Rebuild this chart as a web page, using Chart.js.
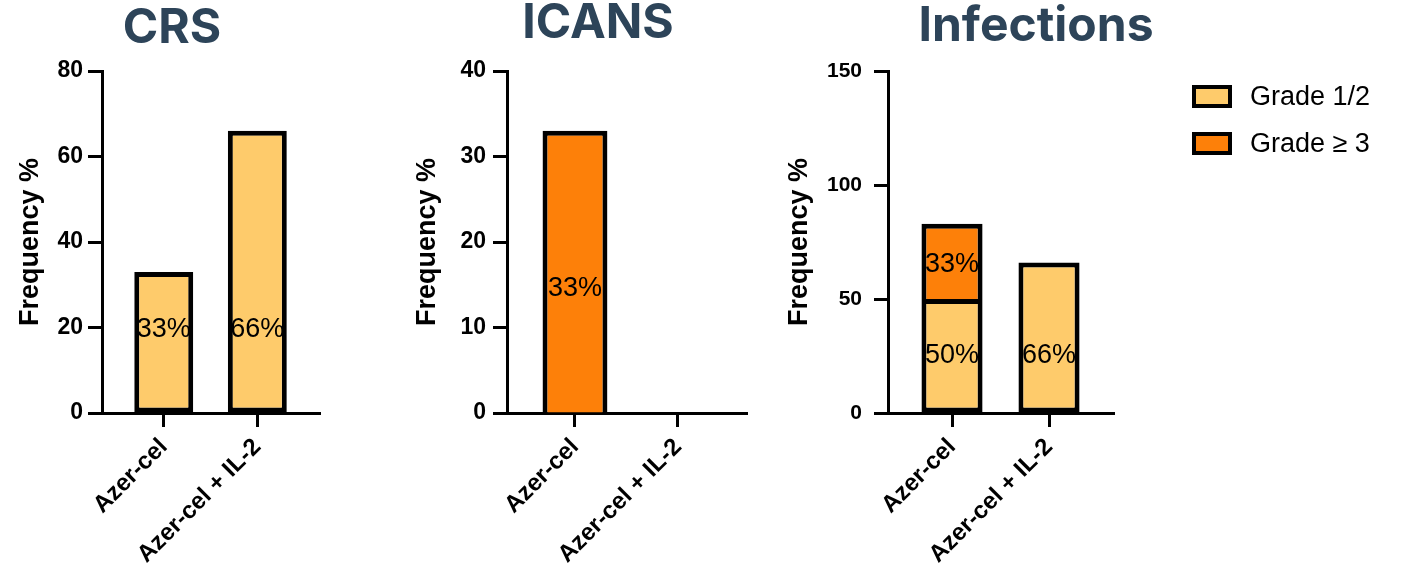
<!DOCTYPE html>
<html>
<head>
<meta charset="utf-8">
<script src="https://cdn.jsdelivr.net/npm/chart.js@4"></script>
<style>
  html, body { margin: 0; padding: 0; background: #fff; }
  body { width: 1402px; height: 576px; position: relative; overflow: hidden; }
  canvas { position: absolute; top: 0; }
  #legend { position: absolute; left: 1192px; top: 85px; font-family: "Liberation Sans", Arial, sans-serif; font-size: 27px; color: #000; }
  #legend .item { display: flex; align-items: center; height: 23px; margin-bottom: 24px; white-space: nowrap; }
  #legend .swatch { box-sizing: border-box; width: 40px; height: 23px; border: 4px solid #000; margin-right: 18px; }
</style>
</head>
<body>
<canvas id="crs" width="344" height="576" style="left:0px"></canvas>
<canvas id="icans" width="396" height="576" style="left:400px"></canvas>
<canvas id="infections" width="512" height="576" style="left:780px"></canvas>
<div id="legend"></div>
<script>
// Treatment arms and grade groups
const categories = ['Azer-cel', 'Azer-cel + IL-2'];
const seriesNames = ['Grade 1/2', 'Grade \u2265 3'];

// Frequency (%) by grade for each adverse event
const crsGrade12 = [33, 66];
const crsGrade3 = [0, 0];
const icansGrade12 = [0, 0];
const icansGrade3 = [33, 0];
const infGrade12 = [50, 66];
const infGrade3 = [33, 0];

// Y axis tick values
const crsTicks = [0, 20, 40, 60, 80];
const icansTicks = [0, 10, 20, 30, 40];
const infTicks = [0, 50, 100, 150];

const SANS = '"Liberation Sans", Arial, sans-serif';
const LIGHT = '#FECB6B';
const DARK = '#FD8009';
const TITLE_COLOR = '#2D4459';

// Writes the percentage inside each non-empty bar segment
const barText = {
  id: 'barText',
  afterDatasetsDraw(chart, args, opts) {
    const { ctx } = chart;
    const yScale = chart.scales.y;
    ctx.save();
    ctx.font = '27px ' + SANS;
    ctx.fillStyle = '#000';
    ctx.textAlign = 'center';
    ctx.textBaseline = 'middle';
    chart.data.datasets.forEach((ds, d) => {
      const meta = chart.getDatasetMeta(d);
      meta.data.forEach((bar, i) => {
        const v = ds.amounts[i];
        if (!v) return;
        ctx.fillText(v + '%', bar.x, yScale.getPixelForValue(opts.anchors[d][i]));
      });
    });
    ctx.restore();
  }
};

// Builds the shared legend as HTML from the chart's own legend items
const htmlLegend = {
  id: 'htmlLegend',
  afterUpdate(chart, args, opts) {
    if (!opts.containerID) return;
    const box = document.getElementById(opts.containerID);
    box.innerHTML = '';
    Chart.defaults.plugins.legend.labels.generateLabels(chart).forEach(item => {
      const row = document.createElement('div');
      row.className = 'item';
      const sw = document.createElement('span');
      sw.className = 'swatch';
      sw.style.background = item.fillStyle;
      const tx = document.createElement('span');
      tx.textContent = item.text;
      row.appendChild(sw);
      row.appendChild(tx);
      box.appendChild(row);
    });
  }
};

// Lower segment starts at zero, upper segment sits on top of the lower one
function lowerSegments(low) {
  return low.map((v, i) => ({ x: i, y: v ? v : null }));
}
function upperSegments(low, high) {
  return high.map((v, i) => ({ x: i, y: v ? [low[i], low[i] + v] : null }));
}

function makePanel(id, cfg) {
  const datasets = [
    { label: seriesNames[0], data: lowerSegments(cfg.low), amounts: cfg.low,
      backgroundColor: LIGHT, borderColor: '#000', borderWidth: 5, borderSkipped: false },
    { label: seriesNames[1], data: upperSegments(cfg.low, cfg.high), amounts: cfg.high,
      backgroundColor: DARK, borderColor: '#000', borderWidth: 5, borderSkipped: 'bottom' }
  ];
  const tickFont = { family: SANS, size: 24, weight: 'bold' };
  return new Chart(document.getElementById(id), {
    type: 'bar',
    data: { datasets },
    options: {
      responsive: false,
      animation: false,
      events: [],
      layout: { padding: 0 },
      datasets: { bar: { categoryPercentage: 1, barPercentage: 0.63, grouped: false } },
      scales: {
        x: {
          type: 'linear',
          min: -0.66,
          max: 1.67,
          offset: false,
          border: { color: '#000', width: 3 },
          grid: { offset: false, drawOnChartArea: false, drawTicks: true, tickLength: 14, tickWidth: 3, tickColor: '#000' },
          ticks: {
            autoSkip: false, minRotation: 45, maxRotation: 45, padding: 6,
            color: '#000', font: tickFont,
            callback: v => categories[v]
          },
          afterBuildTicks: s => { s.ticks = categories.map((c, i) => ({ value: i })); },
          afterFit: s => { s.height = 576 - 413; }
        },
        y: {
          min: cfg.ticks[0],
          max: cfg.ticks[cfg.ticks.length - 1],
          border: { color: '#000', width: 3 },
          grid: { drawOnChartArea: false, drawTicks: true, tickLength: 14, tickWidth: 3, tickColor: '#000' },
          ticks: { padding: cfg.tickPad, color: '#000', font: { family: SANS, size: cfg.tickSize, weight: 'bold' } },
          afterBuildTicks: s => { s.ticks = cfg.ticks.map(v => ({ value: v })); },
          title: {
            display: true, text: 'Frequency %', color: '#000',
            font: { family: SANS, size: 27, weight: 'bold', lineHeight: 1 },
            padding: { top: cfg.axisTitleX - 13.5, bottom: 0 }
          },
          afterFit: s => { s.width = cfg.axisLeft; }
        },
        spacer: {
          position: 'right',
          display: true,
          border: { display: false },
          grid: { display: false },
          ticks: { display: false },
          afterFit: s => { s.width = cfg.rightGap; }
        }
      },
      plugins: {
        legend: { display: false },
        tooltip: { enabled: false },
        title: {
          display: true,
          text: cfg.title,
          color: TITLE_COLOR,
          font: { family: 'Inter, "Open Sans", sans-serif', size: 48, weight: 'bold', lineHeight: 0.8 },
          padding: { top: cfg.titleTop, bottom: 71 - 38.4 - cfg.titleTop }
        },
        barText: { anchors: cfg.anchors },
        htmlLegend: { containerID: cfg.legendID || null }
      }
    },
    plugins: [barText, htmlLegend]
  });
}

makePanel('crs', {
  title: 'CRS', low: crsGrade12, high: crsGrade3, ticks: crsTicks,
  axisLeft: 102, rightGap: 24, axisTitleX: 31, titleTop: 9.5, tickPad: 5, tickSize: 23,
  anchors: [[19.5, 19.5], [0, 0]]
});
makePanel('icans', {
  title: 'ICANS', low: icansGrade12, high: icansGrade3, ticks: icansTicks,
  axisLeft: 107, rightGap: 49, axisTitleX: 28, titleTop: 4.5, tickPad: 7, tickSize: 23,
  anchors: [[0, 0], [14.5, 0]]
});
makePanel('infections', {
  title: 'Infections', low: infGrade12, high: infGrade3, ticks: infTicks,
  axisLeft: 108, rightGap: 178, axisTitleX: 20, titleTop: 7, tickPad: 12, tickSize: 21,
  anchors: [[25, 25], [65, 0]], legendID: 'legend'
});
</script>
</body>
</html>
